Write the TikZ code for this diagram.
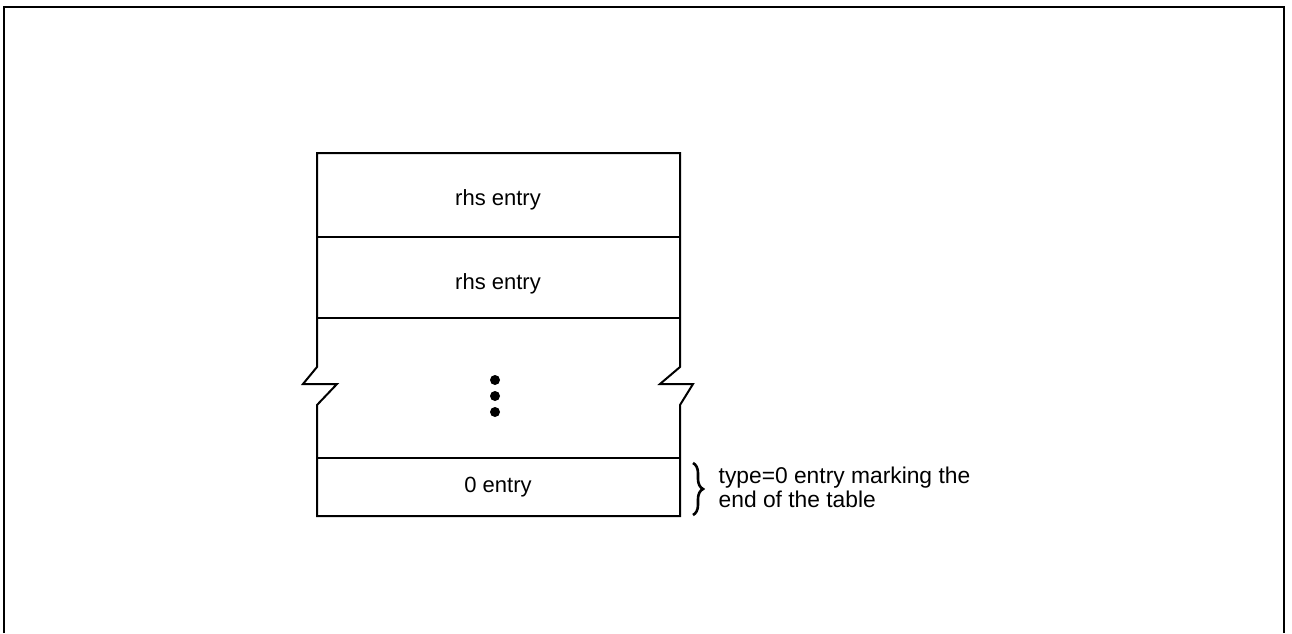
\documentclass[tikz,border=0pt]{standalone}
\usepackage{fontspec}
\setmainfont{Liberation Sans}
\usetikzlibrary{decorations.pathreplacing}
\begin{document}
\begin{tikzpicture}[x=0.5pt, y=-0.5pt, line width=1pt,
		celltext/.style={anchor=base, font=\fontsize{11}{12}\selectfont}]
	\useasboundingbox (0,0) rectangle (1292,633);
		% Marco
			\draw (4,633) -- (4,7) -- (1284,7) -- (1284,633);
		% Tabla
			% Contorno con cortes
				\draw (317,153) -- (317,367) -- (303,384) -- (337,384) -- (317,405) -- (317,516)
					-- (680,516) -- (680,405) -- (693,384) -- (660,384) -- (680,367) -- (680,153) -- cycle;
			% Separaciones
				\draw (317,237) -- (680,237);
				\draw (317,318) -- (680,318);
				\draw (317,458) -- (680,458);
		% Entradas
			\node[celltext] (rhsa) at (498,205) {rhs entry};
			\node[celltext] (rhsb) at (498,289) {rhs entry};
			\node[celltext] (zero) at (498,492) {0 entry};
		% Puntos
			\foreach \y in {380,396,412}
				\fill (495,\y) circle[radius=5];
		% Llave y nota
			\draw[line width=1.3pt, decorate, decoration={brace, amplitude=5pt}] (693,463) -- (693,515);
			\node[anchor=base west, align=left, font=\fontsize{11.4}{12}\selectfont] (note) at (711,507)
				{type=0 entry marking the\\end of the table};
\end{tikzpicture}
\end{document}
